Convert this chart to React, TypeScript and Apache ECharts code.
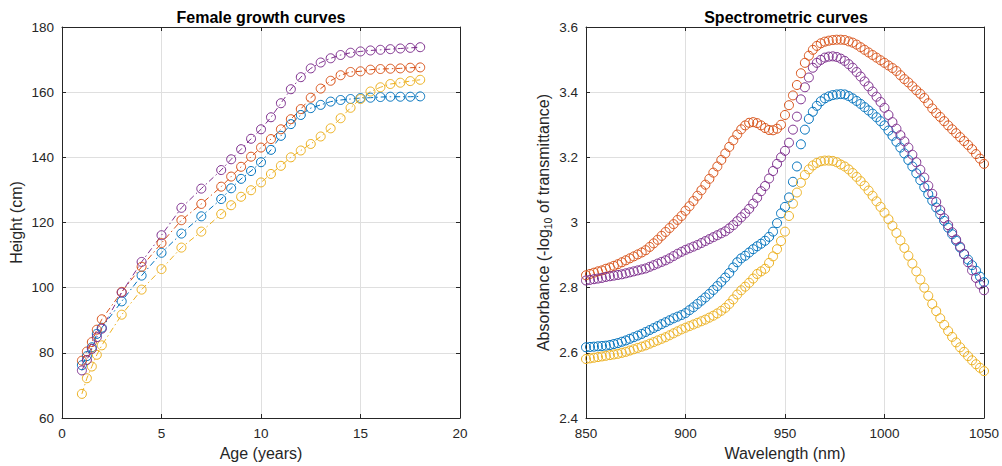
import React, { useEffect, useRef } from "react";
import * as echarts from "echarts";

// ---------- Female growth curves ----------
const AGES = [1, 1.25, 1.5, 1.75, 2, 3, 4, 5, 6, 7, 8, 8.5, 9, 9.5, 10, 10.5, 11, 11.5, 12, 12.5, 13, 13.5, 14, 14.5, 15, 15.5, 16, 16.5, 17, 17.5, 18];
const GIRL_1 = [76.2, 79.0, 81.7, 85.8, 87.7, 95.8, 103.7, 110.7, 116.6, 121.9, 127.2, 130.5, 133.4, 135.8, 138.5, 142.3, 146.6, 150.2, 153.0, 155.1, 156.1, 157.1, 157.6, 157.9, 158.2, 158.3, 158.5, 158.6, 158.6, 158.6, 158.7];
const GIRL_2 = [77.6, 80.4, 83.3, 87.1, 90.3, 98.7, 106.4, 113.7, 120.7, 125.7, 131.0, 134.1, 137.1, 140.2, 143.0, 145.6, 148.6, 151.7, 154.8, 158.3, 161.1, 163.5, 165.2, 166.2, 166.4, 166.9, 167.1, 167.2, 167.3, 167.5, 167.6];
const GIRL_3 = [67.4, 72.2, 75.8, 79.4, 82.3, 91.7, 99.4, 105.7, 112.3, 117.2, 122.6, 125.3, 127.9, 129.9, 132.3, 134.9, 137.4, 140.0, 142.1, 144.1, 146.4, 148.9, 152.0, 155.2, 157.9, 160.2, 161.5, 162.5, 162.9, 163.4, 163.8];
const GIRL_4 = [74.6, 77.8, 81.2, 84.8, 87.4, 98.5, 107.9, 116.1, 124.5, 130.4, 136.1, 139.4, 142.5, 145.7, 148.6, 152.3, 156.6, 160.9, 164.6, 167.3, 169.1, 170.4, 171.4, 172.1, 172.5, 172.8, 173.0, 173.2, 173.4, 173.6, 173.8];
const GROWTH = [GIRL_1, GIRL_2, GIRL_3, GIRL_4];

// ---------- Spectrometric curves (850..1050 nm, step 2) ----------
const WAVE_START = 850;
const WAVE_STEP = 2;
const SPEC_1 = [
  2.617, 2.618, 2.619, 2.620, 2.621, 2.622, 2.624, 2.627, 2.630, 2.634,
  2.638, 2.643, 2.648, 2.653, 2.658, 2.664, 2.670, 2.676, 2.682, 2.688,
  2.694, 2.700, 2.706, 2.711, 2.716, 2.722, 2.731, 2.740, 2.750, 2.760,
  2.770, 2.781, 2.793, 2.805, 2.818, 2.831, 2.845, 2.862, 2.878, 2.890,
  2.898, 2.908, 2.918, 2.927, 2.935, 2.944, 2.956, 2.972, 2.998, 3.028,
  3.048, 3.077, 3.125, 3.172, 3.240, 3.285, 3.318, 3.340, 3.358, 3.372,
  3.381, 3.387, 3.391, 3.393, 3.394, 3.393, 3.388, 3.381, 3.373, 3.364,
  3.354, 3.344, 3.334, 3.323, 3.311, 3.298, 3.282, 3.266, 3.248, 3.230,
  3.212, 3.192, 3.172, 3.151, 3.130, 3.108, 3.087, 3.067, 3.046, 3.025,
  3.005, 2.984, 2.964, 2.944, 2.923, 2.903, 2.886, 2.869, 2.852, 2.834,
  2.817,
];
const SPEC_2 = [
  2.838, 2.842, 2.846, 2.850, 2.853, 2.858, 2.862, 2.867, 2.872, 2.878,
  2.884, 2.890, 2.896, 2.902, 2.908, 2.915, 2.925, 2.936, 2.947, 2.959,
  2.971, 2.983, 2.995, 3.008, 3.020, 3.036, 3.050, 3.066, 3.082, 3.099,
  3.116, 3.134, 3.153, 3.172, 3.192, 3.212, 3.232, 3.252, 3.270, 3.286,
  3.298, 3.306, 3.308, 3.305, 3.298, 3.290, 3.284, 3.283, 3.288, 3.300,
  3.330, 3.360, 3.390, 3.422, 3.458, 3.490, 3.512, 3.530, 3.542, 3.550,
  3.555, 3.558, 3.560, 3.561, 3.561, 3.560, 3.556, 3.552, 3.546, 3.538,
  3.530, 3.522, 3.514, 3.506, 3.498, 3.490, 3.482, 3.474, 3.465, 3.452,
  3.440, 3.430, 3.418, 3.406, 3.395, 3.382, 3.366, 3.350, 3.336, 3.324,
  3.311, 3.298, 3.286, 3.274, 3.262, 3.250, 3.238, 3.225, 3.210, 3.196,
  3.180,
];
const SPEC_3 = [
  2.581, 2.583, 2.585, 2.587, 2.589, 2.591, 2.593, 2.595, 2.597, 2.600,
  2.603, 2.607, 2.611, 2.615, 2.619, 2.623, 2.628, 2.633, 2.638, 2.643,
  2.648, 2.654, 2.660, 2.666, 2.672, 2.677, 2.682, 2.687, 2.692, 2.697,
  2.702, 2.708, 2.714, 2.721, 2.729, 2.738, 2.750, 2.764, 2.779, 2.792,
  2.803, 2.815, 2.828, 2.842, 2.850, 2.858, 2.876, 2.896, 2.918, 2.943,
  2.972, 3.020, 3.058, 3.092, 3.122, 3.146, 3.163, 3.175, 3.183, 3.188,
  3.190, 3.190, 3.189, 3.185, 3.178, 3.172, 3.163, 3.152, 3.140, 3.127,
  3.113, 3.098, 3.082, 3.065, 3.048, 3.030, 3.010, 2.990, 2.968, 2.945,
  2.922, 2.898, 2.874, 2.850, 2.825, 2.800, 2.775, 2.750, 2.728, 2.706,
  2.686, 2.667, 2.649, 2.632, 2.617, 2.603, 2.590, 2.577, 2.565, 2.554,
  2.544,
];
const SPEC_4 = [
  2.822, 2.824, 2.826, 2.828, 2.830, 2.833, 2.835, 2.837, 2.839, 2.841,
  2.844, 2.847, 2.850, 2.853, 2.856, 2.859, 2.864, 2.869, 2.874, 2.879,
  2.884, 2.890, 2.897, 2.904, 2.910, 2.916, 2.921, 2.926, 2.931, 2.937,
  2.943, 2.949, 2.955, 2.961, 2.967, 2.973, 2.982, 2.992, 3.004, 3.016,
  3.028, 3.042, 3.058, 3.076, 3.096, 3.112, 3.135, 3.158, 3.180, 3.200,
  3.220, 3.245, 3.285, 3.325, 3.378, 3.415, 3.445, 3.475, 3.490, 3.499,
  3.506, 3.509, 3.510, 3.508, 3.503, 3.496, 3.486, 3.475, 3.462, 3.448,
  3.433, 3.418, 3.402, 3.386, 3.370, 3.352, 3.330, 3.308, 3.288, 3.268,
  3.249, 3.230, 3.208, 3.185, 3.162, 3.138, 3.113, 3.088, 3.063, 3.038,
  3.013, 2.992, 2.970, 2.948, 2.926, 2.903, 2.878, 2.853, 2.830, 2.810,
  2.792,
];
const SPECTRA = [SPEC_1, SPEC_2, SPEC_3, SPEC_4];

const COLORS = ["#0072BD", "#D95319", "#EDB120", "#7E2F8E"];
const AX = "#262626";
const GRIDC = "#dfdfdf";
const FONT = "'Liberation Sans', Arial, Helvetica, sans-serif";

function plainNum(v: number) {
  return String(Math.round(v * 1000) / 1000);
}

function boxAxes(gridIndex: number, xr: [number, number, number], yr: [number, number, number], xName: string, yName: string, yNameGap: number, yRich?: any) {
  const tick = { show: true, inside: true, length: 4, lineStyle: { color: AX } };
  const line = { show: true, onZero: false, lineStyle: { color: AX, width: 1 } };
  const split = { show: true, lineStyle: { color: GRIDC, width: 1 } };
  const label = { color: AX, fontSize: 13.5, fontFamily: FONT, formatter: plainNum };
  const xAxes = [
    {
      type: "value", gridIndex, min: xr[0], max: xr[1], interval: xr[2], position: "bottom",
      axisLine: line, axisTick: tick, splitLine: split,
      axisLabel: { ...label, margin: 8 },
      name: xName, nameLocation: "middle", nameGap: 27,
      nameTextStyle: { color: AX, fontSize: 16, fontFamily: FONT },
    },
    {
      type: "value", gridIndex, min: xr[0], max: xr[1], interval: xr[2], position: "top",
      axisLine: line, axisTick: tick, splitLine: { show: false }, axisLabel: { show: false },
    },
  ];
  const yAxes = [
    {
      type: "value", gridIndex, min: yr[0], max: yr[1], interval: yr[2], position: "left",
      axisLine: line, axisTick: tick, splitLine: split,
      axisLabel: { ...label, margin: 8 },
      name: yName, nameLocation: "middle", nameGap: yNameGap, nameRotate: 90,
      nameTextStyle: { color: AX, fontSize: 16, fontFamily: FONT, rich: yRich },
    },
    {
      type: "value", gridIndex, min: yr[0], max: yr[1], interval: yr[2], position: "right",
      axisLine: line, axisTick: tick, splitLine: { show: false }, axisLabel: { show: false },
    },
  ];
  return { xAxes, yAxes };
}

export default function App() {
  const ref = useRef<HTMLDivElement>(null);
  useEffect(() => {
    if (!ref.current) return;
    const chart = echarts.init(ref.current, null, { renderer: "svg" });

    const left = boxAxes(0, [0, 20, 5], [60, 180, 20], "Age (years)", "Height (cm)", 38);
    const right = boxAxes(1, [850, 1050, 50], [2.4, 3.6, 0.2], "Wavelength (nm)", "Absorbance (-log{sub|10} of transmittance)", 33, {
      sub: { fontSize: 10.5, fontFamily: FONT, color: AX, padding: [8, 0, 0, 0] },
    });

    const growthSeries = GROWTH.map((vals, i) => ({
      type: "line",
      xAxisIndex: 0,
      yAxisIndex: 0,
      data: AGES.map((a, k) => [a, vals[k]]),
      symbol: "circle",
      symbolSize: 9,
      itemStyle: { color: "rgba(0,0,0,0)", borderColor: COLORS[i], borderWidth: 1 },
      lineStyle: { color: COLORS[i], width: 1, type: [6, 3, 1.5, 3] },
      emphasis: { disabled: true },
    }));

    const specSeries = SPECTRA.map((vals, i) => ({
      type: "scatter",
      xAxisIndex: 2,
      yAxisIndex: 2,
      data: vals.map((v, k) => [WAVE_START + k * WAVE_STEP, v]),
      symbol: "circle",
      symbolSize: 9,
      itemStyle: { color: "rgba(0,0,0,0)", borderColor: COLORS[i], borderWidth: 1, opacity: 1 },
      emphasis: { disabled: true },
    }));

    chart.setOption({
      animation: false,
      backgroundColor: "#ffffff",
      grid: [
        { left: 62, top: 27, width: 398, height: 391 },
        { left: 586, top: 27, width: 400, height: 391 },
      ],
      xAxis: [...left.xAxes, ...right.xAxes],
      yAxis: [...left.yAxes, ...right.yAxes],
      series: [...growthSeries, ...specSeries],
      graphic: [
        {
          type: "text", x: 261, y: 17,
          style: { text: "Female growth curves", fill: "#000", font: `bold 16px ${FONT}`, align: "center", verticalAlign: "middle" },
        },
        {
          type: "text", x: 786, y: 17,
          style: { text: "Spectrometric curves", fill: "#000", font: `bold 16px ${FONT}`, align: "center", verticalAlign: "middle" },
        },
      ],
    });
    return () => chart.dispose();
  }, []);
  return <div ref={ref} style={{ position: "absolute", left: 0, top: 0, width: 1002, height: 466 }} />;
}
